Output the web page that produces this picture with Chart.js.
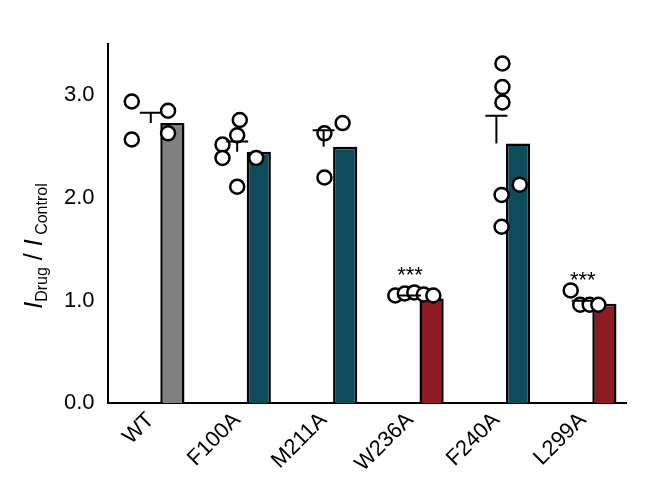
<!DOCTYPE html><html><head><script src="https://cdn.jsdelivr.net/npm/chart.js@4"></script>
<style>body{margin:0;background:#fff}#w{width:654px;height:491px}</style></head><body><div id="w"><canvas id="c"></canvas></div>
<script>
const categories=['WT','F100A','M211A','W236A','F240A','L299A'];
const means=[2.73,2.45,2.50,1.02,2.53,0.97];
const sems=[0.10,0.10,0.16,0.03,0.27,0.03];
const colors=['#808080','#0e4c5c','#0e4c5c','#8c1c22','#0e4c5c','#8c1c22'];
const stars=['','','','***','','***'];
const pointsX=[-0.22,0.2,-0.22,0.2, 0.03,-0.17,0,0.22,-0.17,0, 0.01,0.22,0.01, -0.17,-0.06,0.05,0.16,0.27, 0.07,0.07,0.07,0.27,0.06,0.06, -0.14,-0.03,0.08,0.18];
const pointsG=[0,0,0,0, 1,1,1,1,1,1, 2,2,2, 3,3,3,3,3, 4,4,4,4,4,4, 5,5,5,5];
const pointsY=[2.94,2.85,2.57,2.63, 2.76,2.52,2.61,2.39,2.39,2.11, 2.63,2.73,2.20, 1.05,1.07,1.08,1.06,1.05, 3.31,3.08,2.93,2.13,2.03,1.72, 1.10,0.96,0.96,0.96];
const F='"Liberation Sans", Arial, sans-serif';
const extras={id:'extras',afterDatasetsDraw(ch){const c=ch.ctx,x=ch.scales.x,y=ch.scales.y;c.save();c.strokeStyle='#000';c.lineWidth=2;
means.forEach((m,i)=>{const px=x.getPixelForValue(i),t=y.getPixelForValue(m+sems[i]),b=y.getPixelForValue(m);c.beginPath();c.moveTo(px,b);c.lineTo(px,t);c.moveTo(px-11,t);c.lineTo(px+11,t);c.stroke();
if(stars[i]){c.fillStyle='#000';c.font='22px '+F;c.textAlign='center';c.fillText(stars[i],px,y.getPixelForValue(m+sems[i])-14);}});
c.translate(42,246);c.rotate(-Math.PI/2);c.fillStyle='#000';c.textAlign='left';c.textBaseline='alphabetic';
const parts=[['italic 25px ','I',0],['16px ','Drug',5],['25px ',' / ',0],['italic 25px ','I',0],['16px ',' Control',5]];
let w=0;parts.forEach(p=>{c.font=p[0]+F;w+=c.measureText(p[1]).width;});let cx=-w/2;
parts.forEach(p=>{c.font=p[0]+F;c.fillText(p[1],cx,p[2]);cx+=c.measureText(p[1]).width;});
c.restore();}};
new Chart(document.getElementById('c'),{data:{labels:categories,datasets:[
{type:'scatter',xAxisID:'x2',data:pointsX.map((o,k)=>({x:pointsG[k]+o,y:pointsY[k]})),backgroundColor:'#fff',borderColor:'#000',borderWidth:2.5,pointRadius:7,order:0},
{type:'bar',data:means,backgroundColor:colors,borderColor:'#000',borderWidth:2.5,barPercentage:0.56,categoryPercentage:1,order:1}]},
options:{responsive:true,maintainAspectRatio:false,animation:false,layout:{padding:{left:60,right:28,top:44,bottom:10}},
plugins:{legend:{display:false},tooltip:{enabled:false}},
scales:{x:{type:'category',offset:true,grid:{display:false,tickLength:0},border:{color:'#000',width:2},
ticks:{color:'#000',font:{size:22,family:F},maxRotation:45,minRotation:45,padding:4}},
x2:{type:'linear',display:false,min:-0.5,max:5.5},
y:{min:0,max:3.5,grid:{display:false,tickLength:9,color:'#000',lineWidth:2},border:{color:'#000',width:2},
ticks:{stepSize:0.5,autoSkip:false,color:'#000',font:{size:22,family:F},padding:4,callback:v=>Number.isInteger(v)?v.toFixed(1):''}}}},
plugins:[extras]});
</script></body></html>
